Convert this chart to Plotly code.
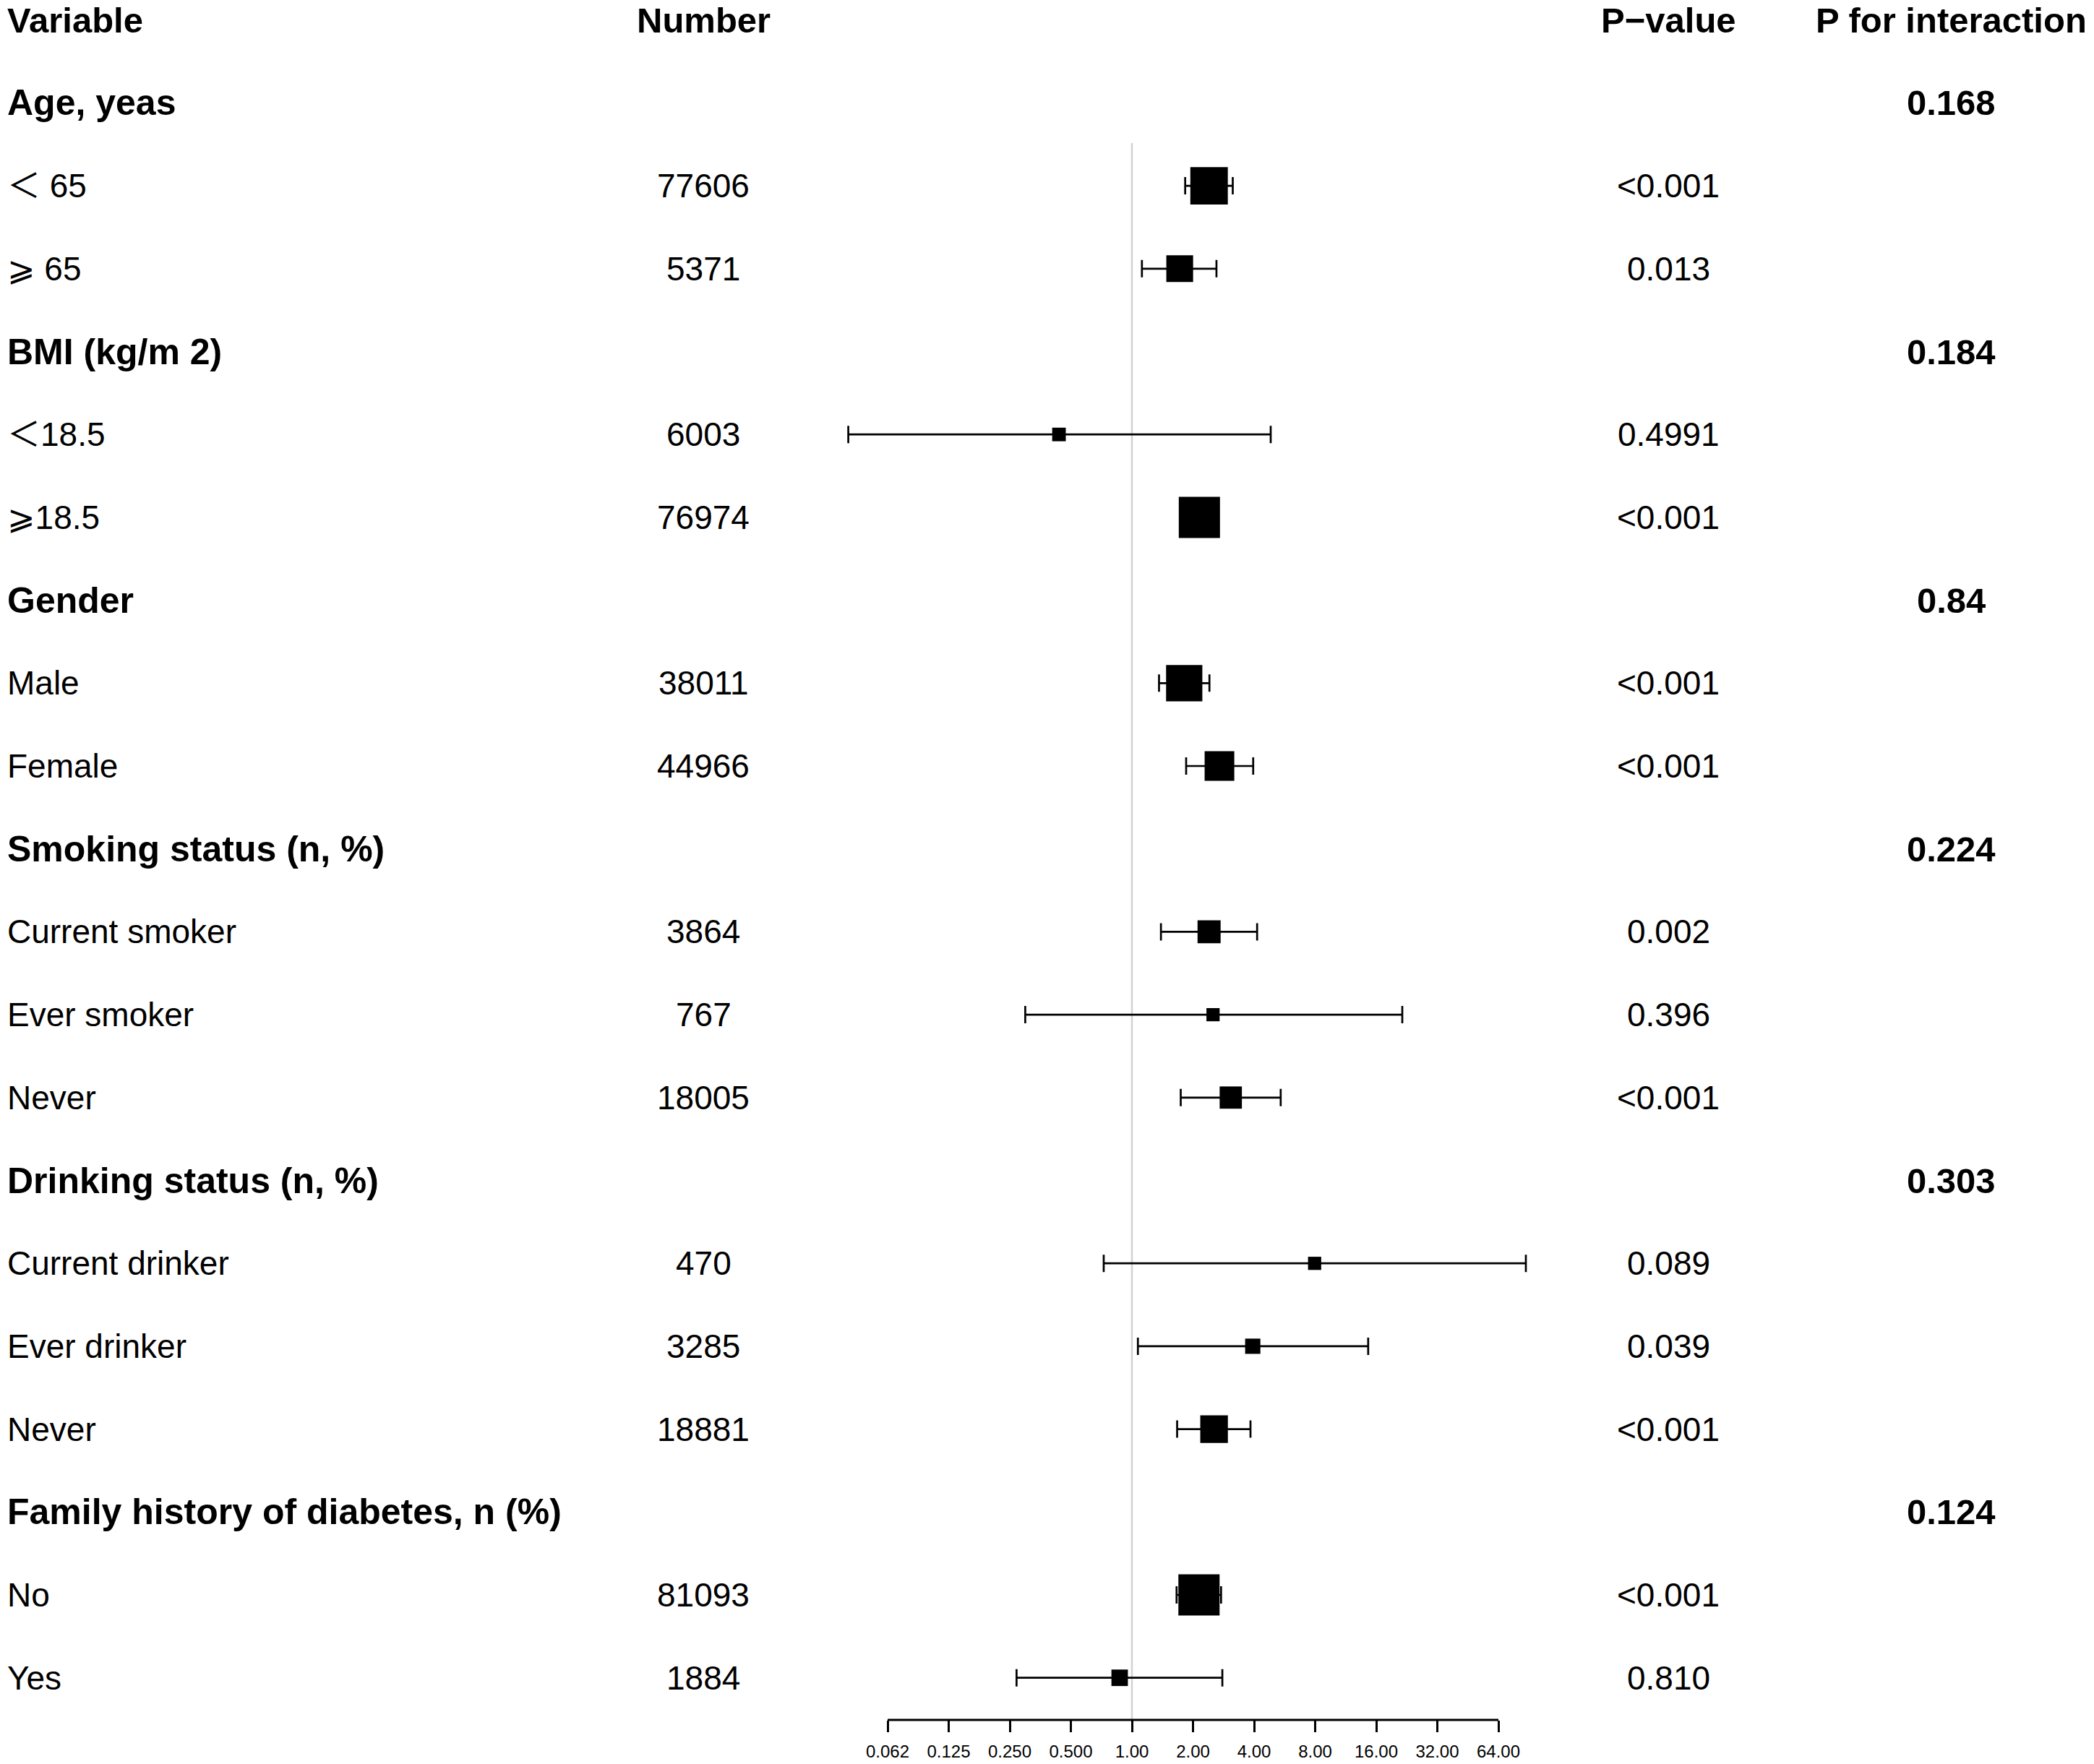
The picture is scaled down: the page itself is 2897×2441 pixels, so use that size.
import numpy as np
import plotly.graph_objects as go

# rows of the forest plot (top to bottom, header row excluded)
labels = ["Age, yeas", "＜ 65", "⩾ 65",
          "BMI (kg/m 2)", "＜18.5", "⩾18.5",
          "Gender", "Male", "Female",
          "Smoking status (n, %)", "Current smoker", "Ever smoker", "Never",
          "Drinking status (n, %)", "Current drinker", "Ever drinker", "Never",
          "Family history of diabetes, n (%)", "No", "Yes"]
is_group = [True, False, False, True, False, False, True, False, False,
            True, False, False, False, True, False, False, False, True, False, False]
numbers = ["", "77606", "5371", "", "6003", "76974", "", "38011", "44966",
           "", "3864", "767", "18005", "", "470", "3285", "18881", "", "81093", "1884"]
p_values = ["", "<0.001", "0.013", "", "0.4991", "<0.001", "", "<0.001", "<0.001",
            "", "0.002", "0.396", "<0.001", "", "0.089", "0.039", "<0.001", "", "<0.001", "0.810"]
p_interaction = ["0.168", "", "", "0.184", "", "", "0.84", "", "",
                 "0.224", "", "", "", "0.303", "", "", "", "0.124", "", ""]

# odds ratios and 95% CI for the subgroup rows (None for group headers)
hr =    [None, 2.40, 1.72, None, 0.437, 2.15, None, 1.81, 2.70,
         None, 2.40, 2.51, 3.07, None, 7.95, 3.94, 2.54, None, 2.14, 0.87]
lower = [None, 1.83, 1.12, None, 0.040, 1.87, None, 1.36, 1.85,
         None, 1.39, 0.298, 1.74, None, 0.726, 1.07, 1.67, None, 1.66, 0.27]
upper = [None, 3.14, 2.61, None, 4.83, 2.47, None, 2.41, 3.96,
         None, 4.14, 21.5, 5.41, None, 87.4, 14.6, 3.84, None, 2.75, 2.79]
weight = [None, 0.91, 0.65, None, 0.33, 1.0, None, 0.88, 0.72,
          None, 0.56, 0.32, 0.54, None, 0.32, 0.37, 0.67, None, 1.0, 0.40]

tick_vals = [0.0625, 0.125, 0.25, 0.5, 1, 2, 4, 8, 16, 32, 64]
tick_text = ["0.062", "0.125", "0.250", "0.500", "1.00", "2.00", "4.00",
             "8.00", "16.00", "32.00", "64.00"]

OFF = 8                      # default body margin of the html page
W, H = 2897 - OFF, 2441 - OFF
AXIS_Y = 2380 - OFF          # pixel row of the x axis line
FONT = "Liberation Sans, Arial, Noto Sans CJK SC, DejaVu Sans, sans-serif"
BOX_MAX = 57

# log x range so that 0.0625 and 64 land at the reference pixel columns
px_lo, px_hi = 1228 - OFF, 2073 - OFF
per_px = (np.log10(64) - np.log10(0.0625)) / (px_hi - px_lo)
r0 = np.log10(0.0625) - px_lo * per_px
r1 = r0 + W * per_px

# y: row index -> pixel, row 0 is the column header
row0, row_step = 27.7 - OFF, 114.7
y_top = -row0 / row_step
y_bot = (AXIS_Y - row0) / row_step

idx = [i for i, v in enumerate(hr) if v is not None]
ys = [i + 1 for i in idx]
xs = [hr[i] for i in idx]
err_plus = [upper[i] - hr[i] for i in idx]
err_minus = [hr[i] - lower[i] for i in idx]
sizes = [weight[i] * BOX_MAX for i in idx]

fig = go.Figure()
# confidence intervals first, boxes drawn on top
fig.add_trace(go.Scatter(
    x=xs, y=ys, mode="markers",
    marker=dict(size=1, color="rgba(0,0,0,0)"),
    error_x=dict(type="data", symmetric=False, array=err_plus, arrayminus=err_minus,
                 color="black", thickness=2.7, width=12),
    showlegend=False, hoverinfo="skip",
))
fig.add_trace(go.Scatter(
    x=xs, y=ys, mode="markers",
    marker=dict(symbol="square", size=sizes, color="black", opacity=1,
                line=dict(width=0)),
    showlegend=False, hoverinfo="skip",
))

annotations = []


def txt(x_px, y, s, bold=False, anchor="left", size=46):
    annotations.append(dict(
        x=x_px / W, xref="paper", y=y, yref="y", text=f"<b>{s}</b>" if bold else s,
        showarrow=False, xanchor=anchor, yanchor="middle",
        font=dict(family=FONT, size=size, color="black")))


LEFT = 0
NUM_X = 973 - OFF
PV_X = 2308 - OFF
PI_X = 2699 - OFF

# column headers
txt(LEFT, 0, "Variable", bold=True, size=49)
txt(NUM_X, 0, "Number", bold=True, anchor="center", size=49)
txt(PV_X, 0, "P\u2212value", bold=True, anchor="center", size=49)
txt(PI_X, 0, "P for interaction", bold=True, anchor="center", size=49)

for i, lab in enumerate(labels):
    y = i + 1
    txt(LEFT, y, lab, bold=is_group[i], size=50 if is_group[i] else 46)
    if numbers[i]:
        txt(NUM_X, y, numbers[i], anchor="center")
    if p_values[i]:
        txt(PV_X, y, p_values[i], anchor="center")
    if p_interaction[i]:
        txt(PI_X, y, p_interaction[i], bold=True, anchor="center", size=49)

shapes = [
    # reference line at OR = 1
    dict(type="line", xref="x", yref="y", x0=1, x1=1, y0=1.485, y1=y_bot,
         line=dict(color="#d2d2d2", width=2.5), layer="below"),
    # axis line only across the labelled range
    dict(type="line", xref="x", yref="paper", x0=0.0625, x1=64, y0=0, y1=0,
         line=dict(color="black", width=3)),
]

fig.update_layout(
    width=W, height=H,
    margin=dict(l=0, r=0, t=0, b=H - AXIS_Y, pad=0),
    paper_bgcolor="white", plot_bgcolor="white",
    annotations=annotations, shapes=shapes,
    xaxis=dict(type="log", range=[r0, r1], showgrid=False, zeroline=False,
               showline=False, ticks="outside", ticklen=16, tickwidth=3,
               tickcolor="black", tickvals=tick_vals, ticktext=tick_text,
               ticklabelstandoff=6,
               tickfont=dict(family=FONT, size=24, color="black")),
    yaxis=dict(range=[y_bot, y_top], visible=False, showgrid=False, zeroline=False),
)

fig.write_html("out.html")
